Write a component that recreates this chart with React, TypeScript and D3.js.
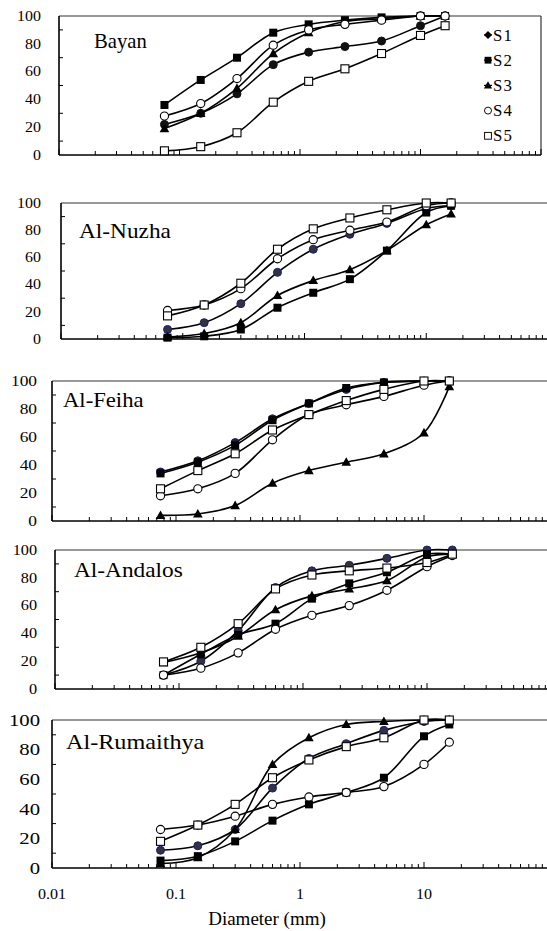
import React from 'react';
import * as d3 from 'd3';

// sieve sizes (mm) and cumulative % passing
const sieveSizes = [0.075, 0.15, 0.3, 0.6, 1.18, 2.36, 4.75, 10, 16];
const seriesNames = ['S1', 'S2', 'S3', 'S4', 'S5'];
const yTicks = [0, 20, 40, 60, 80, 100];
const xTickLabels = ['0.01', '0.1', '1', '10'];

const bayan = [
  [22, 30, 44, 65, 74, 78, 82, 93, 100],
  [36, 54, 70, 88, 94, 97, 99, 100, 100],
  [19, 30, 48, 73, 88, 96, 98, 100, 100],
  [28, 37, 55, 79, 90, 94, 97, 100, 100],
  [3, 6, 16, 38, 53, 62, 73, 86, 93],
];

const alNuzha = [
  [7, 12, 26, 49, 66, 77, 85, 96, 98],
  [1, 2, 7, 23, 34, 44, 65, 93, 98],
  [1.5, 4, 12, 32, 43, 51, 65, 84, 92],
  [21, 25, 37, 59, 73, 80, 86, 98, 100],
  [17, 25, 41, 66, 81, 89, 95, 100, 100],
];

const alFeiha = [
  [35, 43, 56, 73, 84, 94, 99, 100, 100],
  [34, 42, 54, 72, 84, 95, 99, 100, 100],
  [4, 5, 11, 27, 36, 42, 48, 63, 96],
  [18, 23, 34, 58, 76, 83, 89, 97, 100],
  [23, 36, 48, 65, 76, 86, 94, 100, 100],
];

const alAndalos = [
  [10, 20, 42, 73, 85, 89, 94, 100, 100],
  [10, 25, 39, 47, 65, 76, 84, 97, 97],
  [19, 26, 38, 57, 67, 72, 78, 95, 97],
  [10, 15, 26, 43, 53, 60, 71, 88, 96],
  [19.5, 30, 47, 72, 82, 85, 87, 91, 97],
];

const alRumaithya = [
  [12, 15, 26, 54, 74, 84, 93, 99, 100],
  [5, 8, 18, 32, 43, 51, 61, 89, 97],
  [3, 7, 26, 70, 88, 97, 99, 100, 100],
  [26, 29, 35, 43, 48, 51, 55, 70, 85],
  [18, 29, 43, 61, 73, 82, 88, 100, 100],
];

const navy = '#1c1c7a';

// panel layout (pixel boxes)
const panels = [
  { title: 'Bayan', data: bayan, x0: 59, x1: 541, top: 16, bottom: 155, titleX: 94, titleY: 48, titleSx: 0.94, fs: 14, sx: 1.14, labelX: 41, s1Fill: '#111', s1Stroke: '#111', legend: true },
  { title: 'Al-Nuzha', data: alNuzha, x0: 61, x1: 548, top: 203, bottom: 339, titleX: 79, titleY: 238, titleSx: 1.06, fs: 14, sx: 1.14, labelX: 41, s1Fill: '#333340', s1Stroke: navy },
  { title: 'Al-Feiha', data: alFeiha, x0: 52, x1: 548, top: 381, bottom: 521, titleX: 63, titleY: 407, titleSx: 1.03, fs: 15.5, sx: 1.12, labelX: 37, s1Fill: '#222230', s1Stroke: navy },
  { title: 'Al-Andalos', data: alAndalos, x0: 55, x1: 551, top: 550, bottom: 689, titleX: 74, titleY: 577, titleSx: 1.06, fs: 14, sx: 1.16, labelX: 37, s1Fill: '#333340', s1Stroke: navy },
  { title: 'Al-Rumaithya', data: alRumaithya, x0: 52, x1: 548, top: 720, bottom: 868, titleX: 66, titleY: 749, titleSx: 1.1, fs: 17, sx: 1.22, labelX: 40, s1Fill: '#333340', s1Stroke: navy, xLabels: true },
];

function Marker({ kind, x, y, s1Fill, s1Stroke }) {
  if (kind === 0) return <circle cx={x} cy={y} r={4} fill={s1Fill} stroke={s1Stroke} strokeWidth={1} />;
  if (kind === 1) return <rect x={x - 4} y={y - 4} width={8} height={8} fill="#000" />;
  if (kind === 2) return <path d={`M${x},${y - 5}L${x + 4.8},${y + 3.6}L${x - 4.8},${y + 3.6}Z`} fill="#000" />;
  if (kind === 3) return <circle cx={x} cy={y} r={4.1} fill="#fff" stroke="#000" strokeWidth={1.1} />;
  return <rect x={x - 4} y={y - 4} width={8} height={8} fill="#fff" stroke="#000" strokeWidth={1.1} />;
}

function Panel({ p }) {
  const x = d3.scaleLog().domain([0.01, 100]).range([p.x0, p.x1]);
  const y = d3.scaleLinear().domain([0, 100]).range([p.bottom, p.top]);
  const line = d3
    .line<number>()
    .x((_, i) => x(sieveSizes[i]))
    .y(d => y(d))
    .curve(d3.curveCatmullRom.alpha(0.5));

  // log minor ticks
  const xt = [];
  [0.01, 0.1, 1, 10].forEach(dec => {
    for (let m = 1; m <= 9; m++) xt.push({ v: dec * m, major: m === 1 });
  });
  xt.push({ v: 100, major: true });

  return (
    <g>
      {/* frame */}
      <line x1={p.x0} x2={p.x1} y1={p.top} y2={p.top} stroke="#333" strokeWidth={1.2} />
      <line x1={p.x1} x2={p.x1} y1={p.top} y2={p.bottom} stroke="#333" strokeWidth={1.2} />
      <line x1={p.x0} x2={p.x1} y1={p.bottom} y2={p.bottom} stroke="#000" strokeWidth={1.6} />
      <line x1={p.x0} x2={p.x0} y1={p.top} y2={p.bottom} stroke="#000" strokeWidth={1.6} />

      {/* y ticks */}
      {[10, 30, 50, 70, 90].map(t => (
        <line key={t} x1={p.x0} x2={p.x0 + 4} y1={y(t)} y2={y(t)} stroke="#000" strokeWidth={1} />
      ))}
      {yTicks.map(t => (
        <text
          key={t}
          transform={`translate(${p.labelX},${y(t) + p.fs * 0.34}) scale(${p.sx},1)`}
          textAnchor="end"
          fontFamily="Liberation Serif"
          fontSize={p.fs}
          fill="#000"
        >
          {t}
        </text>
      ))}

      {/* x ticks */}
      {xt.map((t, i) => (
        <line
          key={i}
          x1={x(t.v)}
          x2={x(t.v)}
          y1={p.bottom}
          y2={p.bottom - (t.major ? 6 : 4)}
          stroke="#000"
          strokeWidth={1}
        />
      ))}
      {p.xLabels &&
        xTickLabels.map(t => (
          <text
            key={t}
            transform={`translate(${x(+t)},${p.bottom + 31}) scale(1.07,1)`}
            textAnchor="middle"
            fontFamily="Liberation Serif"
            fontSize={15}
            fill="#000"
          >
            {t}
          </text>
        ))}

      <text
        transform={`translate(${p.titleX},${p.titleY}) scale(${p.titleSx},1)`}
        fontFamily="Liberation Serif"
        fontSize={22}
        fill="#000"
      >
        {p.title}
      </text>

      {/* series */}
      {p.data.map((vals, si) => (
        <g key={si}>
          <path d={line(vals)} fill="none" stroke="#000" strokeWidth={1.6} />
          {vals.map((v, i) => (
            <Marker key={i} kind={si} x={x(sieveSizes[i])} y={y(v)} s1Fill={p.s1Fill} s1Stroke={p.s1Stroke} />
          ))}
        </g>
      ))}

      {p.legend &&
        seriesNames.map((name, si) => {
          const ly = 35 + si * 25.2;
          return (
            <g key={name}>
              <line x1={484} x2={492} y1={ly} y2={ly} stroke="#000" strokeWidth={1.2} />
              {si === 0 ? (
                <path d={`M488,${ly - 4}L492,${ly}L488,${ly + 4}L484,${ly}Z`} fill="#000" />
              ) : (
                <g transform={`translate(488,${ly}) scale(0.85) translate(-488,${-ly})`}>
                  <Marker kind={si} x={488} y={ly} s1Fill="#000" s1Stroke="#000" />
                </g>
              )}
              <text
                transform={`translate(493,${ly + 5.5}) scale(1.05,1)`}
                fontFamily="Liberation Serif"
                fontSize={16}
                letterSpacing={1}
                fill="#000"
              >
                {name}
              </text>
            </g>
          );
        })}
    </g>
  );
}

export default function App() {
  return (
    <svg
      width={547}
      height={931}
      style={{ position: 'absolute', left: 0, top: 0, background: '#fff' }}
    >
      <rect width={547} height={931} fill="#fff" />
      {panels.map(p => (
        <Panel key={p.title} p={p} />
      ))}
      <text
        x={267}
        y={925}
        textAnchor="middle"
        fontFamily="Liberation Serif"
        fontSize={19}
        fill="#000"
      >
        Diameter (mm)
      </text>
    </svg>
  );
}
